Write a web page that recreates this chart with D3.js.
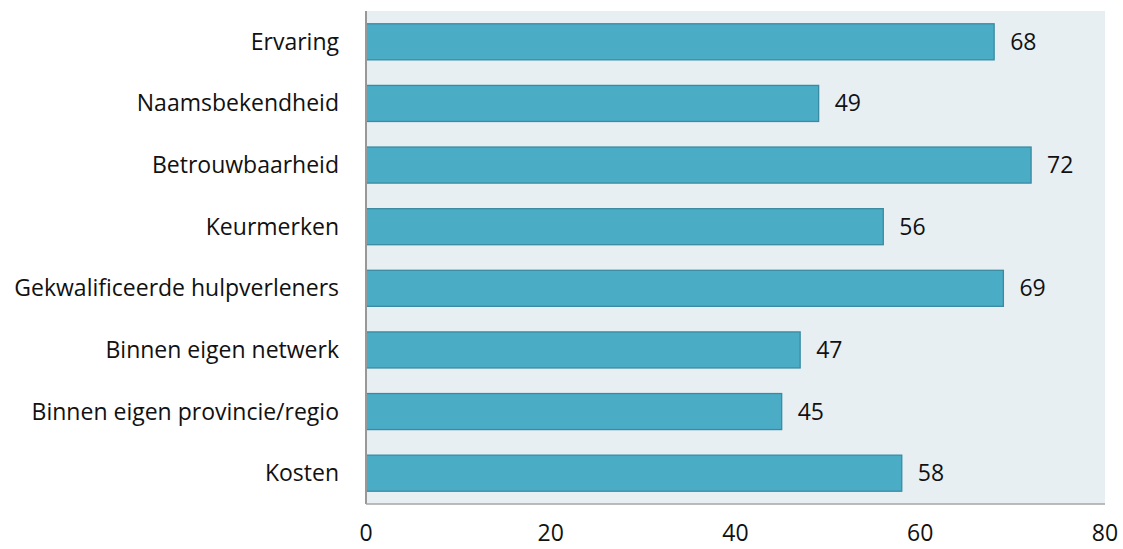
<!DOCTYPE html>
<html>
<head>
<meta charset="utf-8">
<script src="https://cdn.jsdelivr.net/npm/d3@7"></script>
<style>
  html, body { margin: 0; padding: 0; background: #fff; }
  svg { display: block; }
  text { font-family: "Open Sans", sans-serif; fill: #111; }
</style>
</head>
<body>
<svg id="chart" width="1123" height="549"></svg>
<script>
const categories = [
  "Ervaring",
  "Naamsbekendheid",
  "Betrouwbaarheid",
  "Keurmerken",
  "Gekwalificeerde hulpverleners",
  "Binnen eigen netwerk",
  "Binnen eigen provincie/regio",
  "Kosten"
];
const values = [68, 49, 72, 56, 69, 47, 45, 58];
const xTicks = [0, 20, 40, 60, 80];

const svg = d3.select("#chart");
const margin = { top: 11, right: 18, bottom: 45, left: 366 };
const W = 1123, H = 549;
const fontSize = 23;

const x = d3.scaleLinear().domain([0, 80]).range([margin.left, W - margin.right]);
const y = d3.scaleBand().domain(categories).range([margin.top, H - margin.bottom]).paddingInner(0.415).paddingOuter(0.2075);

// plot background
svg.append("rect")
  .attr("x", x(0)).attr("y", margin.top)
  .attr("width", x(80) - x(0)).attr("height", H - margin.bottom - margin.top)
  .attr("fill", "#E8EFF3");

// bars
svg.append("g").selectAll("rect")
  .data(values)
  .join("rect")
  .attr("x", x(0))
  .attr("y", (d, i) => y(categories[i]))
  .attr("width", d => x(d) - x(0))
  .attr("height", y.bandwidth())
  .attr("fill", "#4BACC6")
  .attr("stroke", "#3A8BA1")
  .attr("stroke-width", 1.3);

// value labels
svg.append("g").selectAll("text")
  .data(values)
  .join("text")
  .attr("x", d => x(d) + 16)
  .attr("y", (d, i) => y(categories[i]) + y.bandwidth() / 2 + 8)
  .attr("font-size", fontSize)
  .text(d => d);

// category labels
svg.append("g").selectAll("text")
  .data(categories)
  .join("text")
  .attr("x", 339)
  .attr("y", d => y(d) + y.bandwidth() / 2 + 8)
  .attr("text-anchor", "end")
  .attr("font-size", fontSize)
  .text(d => d);

// axis lines
svg.append("line")
  .attr("x1", x(0)).attr("x2", x(0))
  .attr("y1", margin.top).attr("y2", H - margin.bottom)
  .attr("stroke", "#989898").attr("stroke-width", 2);
svg.append("line")
  .attr("x1", x(0)).attr("x2", x(80))
  .attr("y1", H - margin.bottom).attr("y2", H - margin.bottom)
  .attr("stroke", "#A6A6A6").attr("stroke-width", 1.5);

// x tick labels
svg.append("g").selectAll("text")
  .data(xTicks)
  .join("text")
  .attr("x", d => x(d))
  .attr("y", 541)
  .attr("text-anchor", "middle")
  .attr("font-size", fontSize)
  .text(d => d);
</script>
</body>
</html>
